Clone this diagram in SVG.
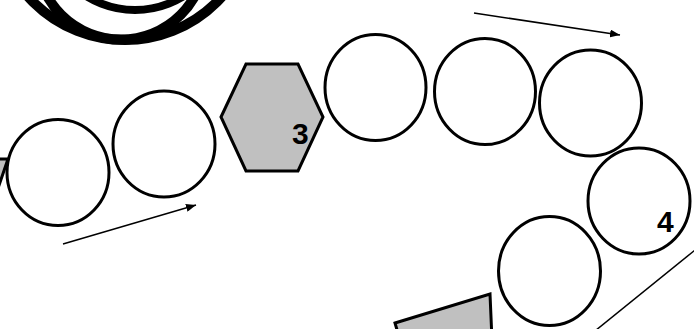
<svg xmlns="http://www.w3.org/2000/svg" width="694" height="329" viewBox="0 0 694 329">
<defs>
<style>
.c{fill:#fff;stroke:#000;stroke-width:3}
.g{fill:#c0c0c0;stroke:#000;stroke-width:3;stroke-linejoin:miter}
.ring{fill:none;stroke:#000}
.ln{stroke:#000;stroke-width:1.5;fill:none}
.lbl{font-family:"Liberation Sans",Arial,sans-serif;font-weight:bold;font-size:30px;fill:#000}
</style>
<marker id="ah" viewBox="0 0 10 8" refX="10" refY="4" markerWidth="10" markerHeight="8" markerUnits="userSpaceOnUse" orient="auto">
<path d="M0,0 L10,4 L0,8 Z" fill="#000"/>
</marker>
</defs>
<rect width="694" height="329" fill="#fff"/>
<g id="spiral">
<circle class="ring" cx="125" cy="-90" r="130" stroke-width="10"/>
<circle class="ring" cx="121" cy="-45" r="84.5" stroke-width="10"/>
<circle class="ring" cx="135" cy="-82" r="92" stroke-width="8"/>
</g>
<g id="left-shape"><polygon class="g" points="-20,159 8,159 -6,200"/></g>
<g id="n1"><ellipse class="c" cx="58" cy="172.5" rx="51" ry="53"/></g>
<g id="n2"><ellipse class="c" cx="164" cy="144" rx="51" ry="53"/></g>
<g id="n3"><polygon class="g" points="221,117 246,64 298,64 323,117 298,171 246,171"/><text class="lbl" x="292" y="144">3</text></g>
<g id="n4"><ellipse class="c" cx="375.5" cy="87.5" rx="50.5" ry="53"/></g>
<g id="n5"><ellipse class="c" cx="485" cy="91.5" rx="50.5" ry="53"/></g>
<g id="n6"><ellipse class="c" cx="590.5" cy="103" rx="51" ry="53"/></g>
<g id="n7"><ellipse class="c" cx="639" cy="201" rx="51" ry="53"/><text class="lbl" x="657" y="232">4</text></g>
<g id="n8"><ellipse class="c" cx="549.5" cy="271" rx="51" ry="54.5"/></g>
<g id="n9"><path class="g" d="M395,323 L490,294 L492,340 L400,340 Z"/></g>
<g id="connectors">
<line class="ln" x1="63" y1="244" x2="196" y2="205" marker-end="url(#ah)"/>
<line class="ln" x1="474" y1="13" x2="620" y2="35" marker-end="url(#ah)"/>
<line class="ln" x1="700" y1="246" x2="590" y2="335"/>
</g>
</svg>
